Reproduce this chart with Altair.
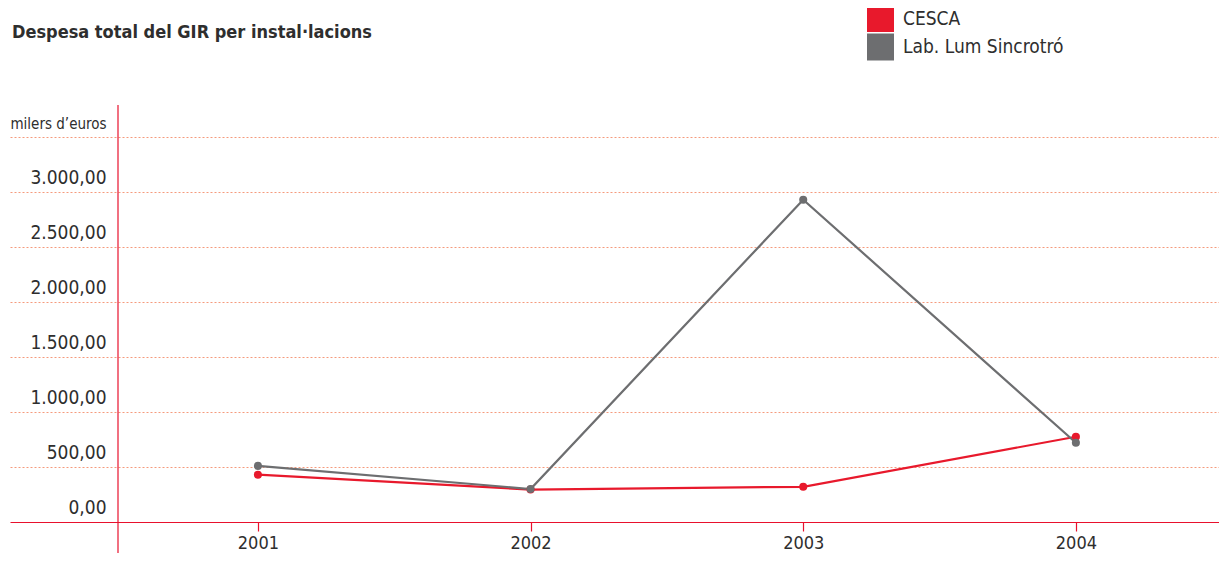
import json
import altair as alt
import pandas as pd

years = ["2001", "2002", "2003", "2004"]
cesca = [430, 295, 320, 775]
sincrotro = [510, 300, 2930, 720]
series_names = ["CESCA", "Lab. Lum Sincrotró"]
series_colors = ["#e8192c", "#6d6e70"]
y_ticks = [0, 500, 1000, 1500, 2000, 2500, 3000, 3500]
y_tick_labels = ["0,00", "500,00", "1.000,00", "1.500,00", "2.000,00",
                 "2.500,00", "3.000,00", "milers d\u2019euros"]
title_text = "Despesa total del GIR per instal\u00b7lacions"

rows = []
for name, vals in zip(series_names, [cesca, sincrotro]):
    for yr, v in zip(years, vals):
        rows.append({"year": yr, "value": v, "series": name})
df = pd.DataFrame(rows)

AXIS_RED = "#e8112d"
GRID = "#f59a7c"
TEXT = "#2e2e2e"
FONT = "DejaVu Sans Condensed, sans-serif"

W, H = 1209, 418

label_expr = json.dumps(y_tick_labels, ensure_ascii=False) + "[round(datum.value / 500)]"

x_enc = alt.X(
    "year:N", sort=years, title=None,
    scale=alt.Scale(type="point", padding=0.717, align=0.634),
    axis=alt.Axis(
        domainColor=AXIS_RED, domainWidth=1.2, tickColor=AXIS_RED, tickSize=9,
        tickWidth=1.2, labelAngle=0, labelFont=FONT, labelFontSize=18,
        labelColor=TEXT, labelPadding=3, grid=False,
    ),
)
y_enc = alt.Y(
    "value:Q", title=None,
    scale=alt.Scale(domain=[0, 3800], nice=False, zero=True),
    axis=alt.Axis(
        values=y_ticks, offset=-108, domain=False, ticks=False, tickSize=0,
        labelExpr=label_expr, labelFont=FONT,
        labelFontSize={"condition": {"test": "datum.value == 3500", "value": 15}, "value": 19},
        labelColor=TEXT, labelPadding=12, labelBaseline="alphabetic", labelOffset=-9,
        grid=True, gridColor=GRID, gridDash=[2, 2], gridWidth=1,
        gridOpacity={"condition": {"test": "datum.value == 0", "value": 0}, "value": 1},
    ),
)
color_scale = alt.Scale(domain=series_names, range=series_colors)
legend = alt.Legend(
    title=None, orient="none", legendX=857, legendY=-99,
    symbolType="square", symbolSize=729, symbolStrokeWidth=0,
    symbolOpacity=1, rowPadding=1.5, labelOffset=9, labelLimit=400,
    labelFont=FONT, labelFontSize=19, labelColor=TEXT,
    labelBaseline="middle", padding=0,
)
color_enc = alt.Color("series:N", scale=color_scale, sort=series_names, legend=legend)

base = alt.Chart(df)

lines = base.mark_line(strokeWidth=2.2).encode(
    x=x_enc, y=y_enc, color=color_enc, order=alt.Order("year:N"),
)
points = base.mark_circle(size=65, opacity=1).encode(
    x=x_enc, y=y_enc, color=color_enc,
)

vline = alt.Chart(pd.DataFrame({"k": [0]})).mark_rule(
    color=AXIS_RED, strokeWidth=1.2
).encode(x=alt.value(108), y=alt.value(1), y2=alt.value(H + 33))

chart = alt.layer(vline, lines, points).properties(
    width=W, height=H,
    title=alt.TitleParams(
        text=title_text, anchor="start", orient="top", frame="group",
        font=FONT, fontSize=18, fontWeight="bold", color=TEXT,
        offset=-51, dx=2, baseline="alphabetic",
    ),
    autosize=alt.AutoSizeParams(type="none"),
    padding={"left": 2, "top": 96, "right": 0, "bottom": 31},
    background="white",
).configure_view(stroke=None)

chart.save("out.html", embed_options={"renderer": "svg", "actions": False})
